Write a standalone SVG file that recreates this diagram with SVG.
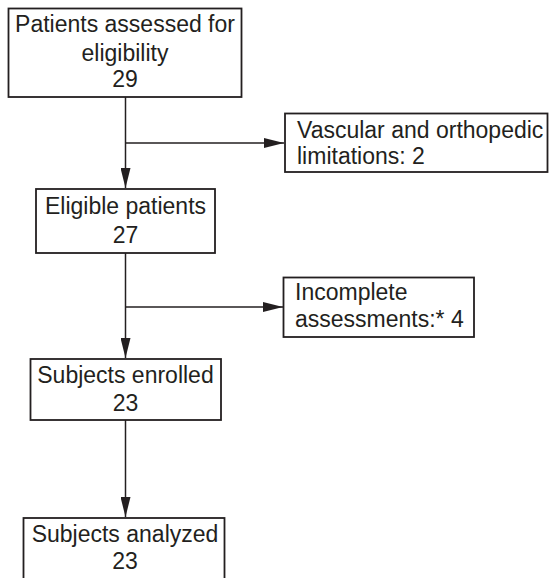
<svg xmlns="http://www.w3.org/2000/svg" width="549" height="578" viewBox="0 0 549 578">
<style>
.box{fill:#fff;stroke:#231f20;stroke-width:1.8}
.t{font-family:"Liberation Sans",Arial,sans-serif;font-size:23px;fill:#231f20}
.c{text-anchor:middle}
.ln{fill:none;stroke:#231f20;stroke-width:1.5}
</style>
<defs>
<marker id="ah" markerUnits="userSpaceOnUse" markerWidth="20" markerHeight="10" refX="20" refY="5" orient="auto">
<path d="M0,0 L20,5 L0,10 Z" fill="#231f20"/>
</marker>
</defs>
<rect width="549" height="578" fill="#fff"/>
<g id="connectors">
<path class="ln" d="M125.5,97 V188" marker-end="url(#ah)"/>
<path class="ln" d="M125.5,143 H284" marker-end="url(#ah)"/>
<path class="ln" d="M125.5,253 V358" marker-end="url(#ah)"/>
<path class="ln" d="M125.5,307 H283" marker-end="url(#ah)"/>
<path class="ln" d="M125.5,420 V517" marker-end="url(#ah)"/>
</g>
<g id="n1">
<rect class="box" x="8.5" y="8.5" width="233" height="88.5"/>
<text class="t c" x="125" y="32">Patients assessed for</text>
<text class="t c" x="125" y="61">eligibility</text>
<text class="t c" x="125" y="87">29</text>
</g>
<g id="n2">
<rect class="box" x="285" y="113.5" width="262.5" height="58.5"/>
<text class="t" x="297" y="138">Vascular and orthopedic</text>
<text class="t" x="297" y="164">limitations: 2</text>
</g>
<g id="n3">
<rect class="box" x="36" y="189" width="179" height="64"/>
<text class="t c" x="125.5" y="214">Eligible patients</text>
<text class="t c" x="125.5" y="243">27</text>
</g>
<g id="n4">
<rect class="box" x="283.5" y="277.5" width="190.5" height="59.5"/>
<text class="t" x="295" y="300">Incomplete</text>
<text class="t" x="295" y="327">assessments:* 4</text>
</g>
<g id="n5">
<rect class="box" x="30.5" y="359" width="190.5" height="61"/>
<text class="t c" x="125.5" y="383">Subjects enrolled</text>
<text class="t c" x="125.5" y="411">23</text>
</g>
<g id="n6">
<rect class="box" x="23.5" y="518" width="201" height="70"/>
<text class="t c" x="125" y="542">Subjects analyzed</text>
<text class="t c" x="125" y="569">23</text>
</g>
</svg>
